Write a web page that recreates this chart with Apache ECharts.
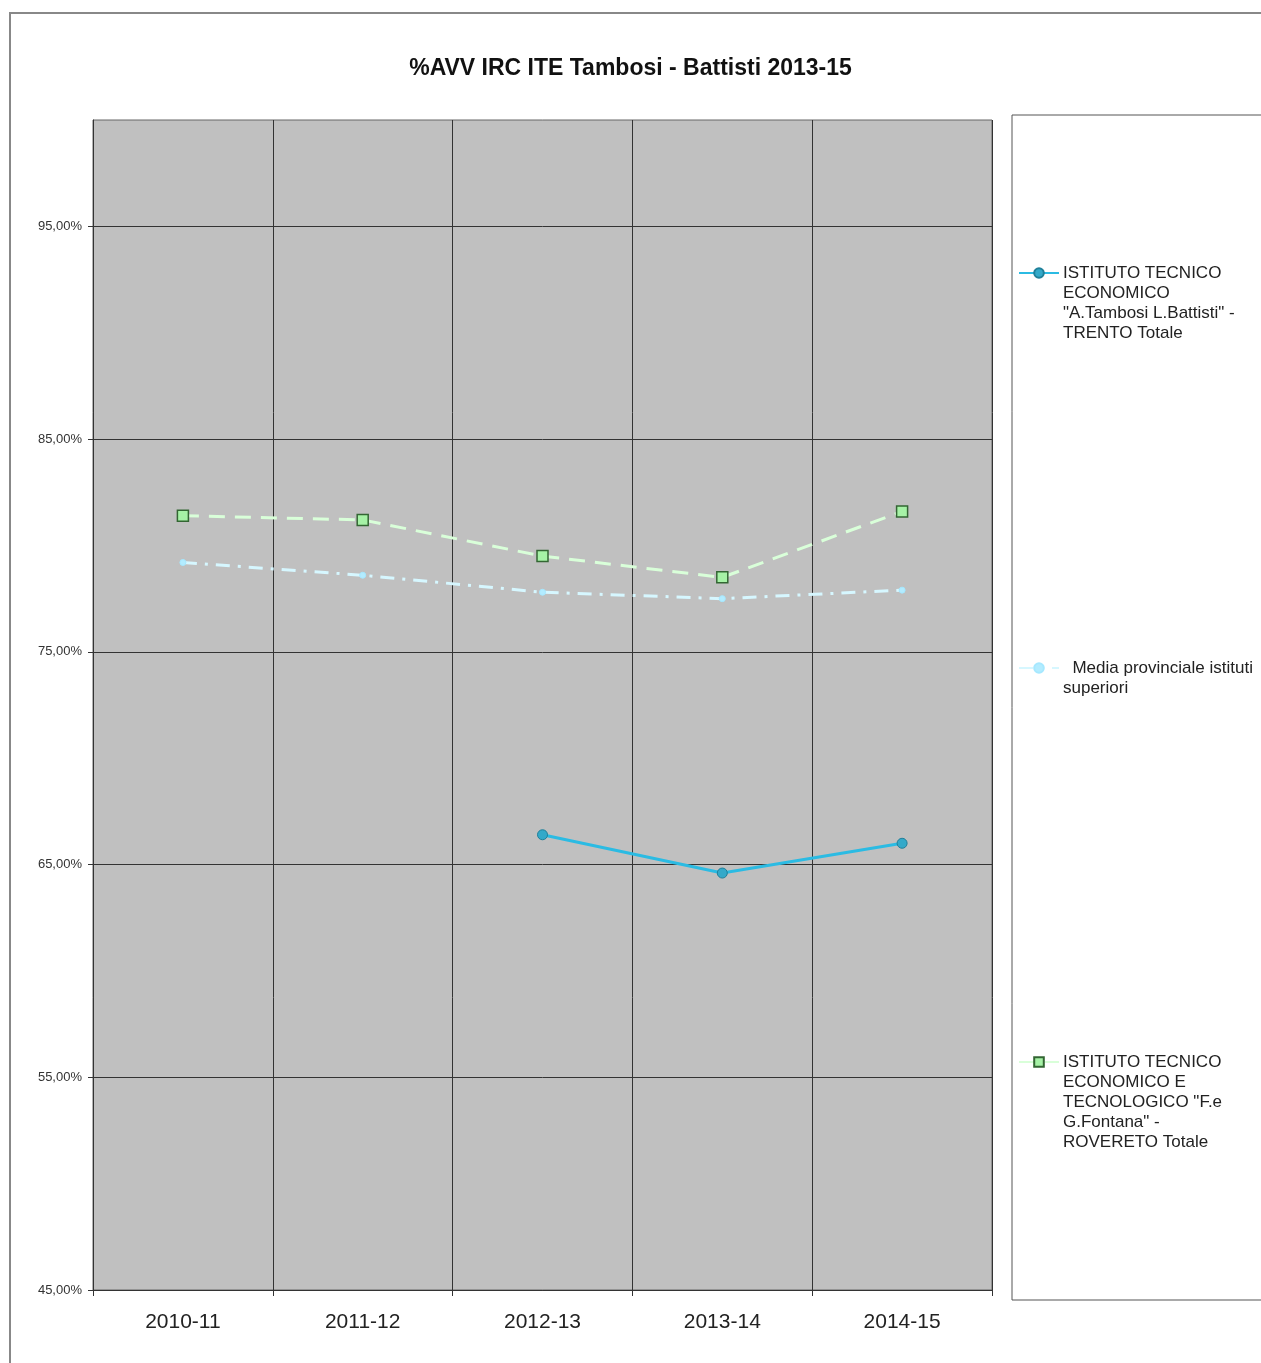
<!DOCTYPE html>
<html>
<head>
<meta charset="utf-8">
<script src="https://cdn.jsdelivr.net/npm/echarts@6/dist/echarts.min.js"></script>
<style>
  html, body { margin: 0; padding: 0; background: #fff; }
  #chart { width: 1261px; height: 1363px; }
</style>
</head>
<body>
<div id="chart"></div>
<script>
var years = ['2010-11', '2011-12', '2012-13', '2013-14', '2014-15'];
var tamb = [null, null, 66.4, 64.6, 66.0];
var media = [79.2, 78.6, 77.8, 77.5, 77.9];
var fontana = [81.4, 81.2, 79.5, 78.5, 81.6];
var yTicks = [45, 55, 65, 75, 85, 95];

var nameTamb = 'ISTITUTO TECNICO\nECONOMICO\n"A.Tambosi L.Battisti" -\nTRENTO Totale';
var nameMedia = '  Media provinciale istituti\nsuperiori';
var nameFontana = 'ISTITUTO TECNICO\nECONOMICO E\nTECNOLOGICO "F.e\nG.Fontana" -\nROVERETO Totale';

var dom = document.getElementById('chart');
var myChart = echarts.init(dom);

// legend icons only; the multi-line names are drawn as text next to them
function legendFor(name, center) {
    return {
        orient: 'vertical',
        left: 1018,
        top: center - 6,
        padding: 0,
        itemWidth: 40,
        itemHeight: 12,
        data: [name],
        formatter: function () { return ''; }
    };
}

function legendText(name, center) {
    return {
        type: 'text',
        left: 1063,
        top: center - 10,
        silent: true,
        style: {
            text: name,
            font: '17px "Liberation Sans", Arial',
            lineHeight: 20,
            fill: '#222'
        }
    };
}

var option = {
    backgroundColor: '#fff',
    animation: false,
    title: {
        text: '%AVV IRC ITE Tambosi - Battisti 2013-15',
        left: 'center',
        top: 52,
        textStyle: {
            fontFamily: 'Liberation Sans, Arial',
            fontSize: 23,
            fontWeight: 'bold',
            color: '#111'
        }
    },
    graphic: [
        {
            type: 'rect',
            shape: { x: 10, y: 13, width: 1262, height: 1360 },
            style: { fill: 'none', stroke: '#888', lineWidth: 2 },
            silent: true
        },
        {
            type: 'rect',
            shape: { x: 1012, y: 115, width: 260, height: 1185 },
            style: { fill: '#fff', stroke: '#555', lineWidth: 1 },
            silent: true,
            z: -1
        },
        legendText(nameTamb, 273),
        legendText(nameMedia, 668),
        legendText(nameFontana, 1062)
    ],
    legend: [
        legendFor(nameTamb, 273),
        legendFor(nameMedia, 668),
        legendFor(nameFontana, 1062)
    ],
    grid: {
        left: 93,
        right: 269,
        top: 120,
        bottom: 73,
        show: true,
        backgroundColor: '#c0c0c0',
        borderColor: '#666',
        borderWidth: 1
    },
    xAxis: {
        type: 'category',
        data: years,
        boundaryGap: true,
        axisLine: { lineStyle: { color: '#333', width: 1 } },
        axisTick: { show: true, length: 6, lineStyle: { color: '#333' } },
        axisLabel: {
            fontFamily: 'Liberation Sans, Arial',
            fontSize: 21,
            color: '#222',
            margin: 22
        },
        splitLine: { show: true, lineStyle: { color: '#333', width: 1 } }
    },
    yAxis: {
        type: 'value',
        min: 45,
        max: 100,
        interval: 10,
        axisLine: { show: true, lineStyle: { color: '#333', width: 1 } },
        axisTick: { show: true, length: 5, lineStyle: { color: '#333' }, customValues: yTicks },
        axisLabel: {
            fontFamily: 'Liberation Sans, Arial',
            fontSize: 13,
            color: '#333',
            margin: 11,
            customValues: yTicks,
            formatter: function (v) {
                return v.toFixed(2).replace('.', ',') + '%';
            }
        },
        splitLine: { show: true, lineStyle: { color: '#333', width: 1 } }
    },
    series: [
        {
            name: nameTamb,
            type: 'line',
            data: tamb,
            symbol: 'circle',
            symbolSize: 10,
            lineStyle: { color: '#2bbbe3', width: 3 },
            itemStyle: { color: '#34a9c9', borderColor: '#1f7f99', borderWidth: 1 }
        },
        {
            name: nameMedia,
            type: 'line',
            data: media,
            symbol: 'circle',
            symbolSize: 6,
            lineStyle: { color: '#d6f7ff', width: 3, type: [14, 8, 3, 8] },
            itemStyle: { color: '#b3ecff', borderColor: '#a6e8ff', borderWidth: 1 }
        },
        {
            name: nameFontana,
            type: 'line',
            data: fontana,
            symbol: 'rect',
            symbolSize: 11,
            lineStyle: { color: '#d9ffd9', width: 3, type: [16, 10] },
            itemStyle: { color: '#a6f2a6', borderColor: '#336633', borderWidth: 1.5 }
        }
    ]
};

if (option && typeof option === 'object') {
    myChart.setOption(option, true);
}
</script>
</body>
</html>
